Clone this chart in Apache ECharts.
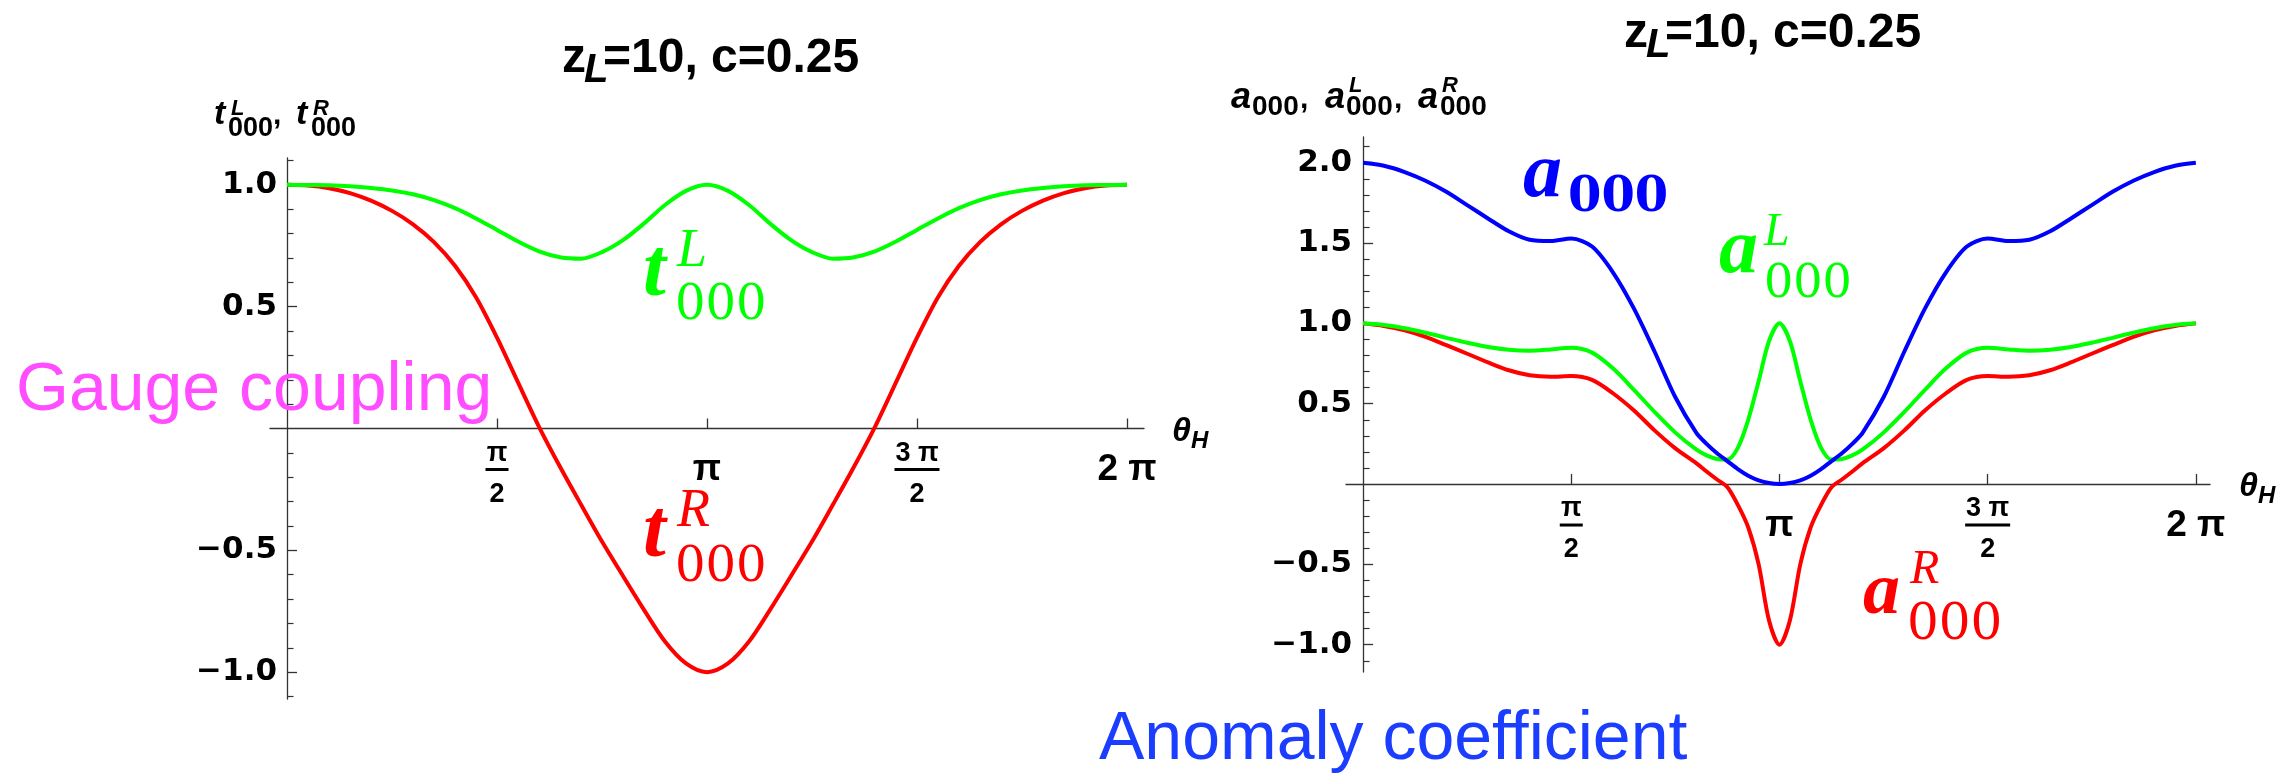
<!DOCTYPE html>
<html>
<head>
<meta charset="utf-8">
<script src="https://cdn.jsdelivr.net/npm/echarts@6/dist/echarts.min.js"></script>
<style>
html,body{margin:0;padding:0;background:#ffffff;}
#chart{width:2296px;height:780px;}
</style>
</head>
<body>
<div id="chart"></div>
<script>
// ---------------- data (x in units of π) ----------------
const thetaLeft = [0,0.05,0.1,0.15,0.2,0.25,0.3,0.35,0.4,0.45,0.5,0.55,0.6,0.65,0.7,0.75,0.8,0.85,0.9,0.95,1,
  1.05,1.1,1.15,1.2,1.25,1.3,1.35,1.4,1.45,1.5,1.55,1.6,1.65,1.7,1.75,1.8,1.85,1.9,1.95,2];
const tL000 = [1.000,0.999,0.998,0.994,0.987,0.977,0.961,0.937,0.904,0.862,0.815,0.767,0.727,0.703,0.697,0.724,0.773,0.841,0.917,0.975,1.000,
  0.975,0.917,0.841,0.773,0.724,0.697,0.703,0.727,0.767,0.815,0.862,0.904,0.937,0.961,0.977,0.987,0.994,0.998,0.999,1.000];
const tR000 = [1.000,0.997,0.986,0.966,0.935,0.893,0.838,0.765,0.668,0.539,0.373,0.189,0.007,-0.157,-0.312,-0.464,-0.605,-0.744,-0.874,-0.964,-1.000,
  -0.964,-0.874,-0.744,-0.605,-0.464,-0.312,-0.157,0.007,0.189,0.373,0.539,0.668,0.765,0.838,0.893,0.935,0.966,0.986,0.997,1.000];

const thetaRight = [0,0.05,0.1,0.15,0.2,0.25,0.3,0.35,0.4,0.45,0.5,0.55,0.6,0.65,0.7,0.75,0.8,0.825,0.85,0.875,0.9,0.925,0.95,0.975,1,
  1.025,1.05,1.075,1.1,1.125,1.15,1.175,1.2,1.25,1.3,1.35,1.4,1.45,1.5,1.55,1.6,1.65,1.7,1.75,1.8,1.85,1.9,1.95,2];
const a000 = [2.000,1.981,1.942,1.888,1.819,1.736,1.653,1.573,1.520,1.512,1.528,1.478,1.318,1.095,0.825,0.540,0.320,0.250,0.192,0.143,0.093,0.052,0.023,0.006,0.000,
  0.006,0.023,0.052,0.093,0.143,0.192,0.250,0.320,0.540,0.825,1.095,1.318,1.478,1.528,1.512,1.520,1.573,1.653,1.736,1.819,1.888,1.942,1.981,2.000];
const aL000 = [1.000,0.990,0.970,0.942,0.910,0.879,0.853,0.836,0.830,0.838,0.848,0.818,0.720,0.588,0.449,0.320,0.215,0.178,0.156,0.152,0.225,0.400,0.640,0.890,1.000,
  0.890,0.640,0.400,0.225,0.152,0.156,0.178,0.215,0.320,0.449,0.588,0.720,0.818,0.848,0.838,0.830,0.836,0.853,0.879,0.910,0.942,0.970,0.990,1.000];
const aR000 = [1.000,0.984,0.957,0.916,0.864,0.811,0.757,0.708,0.677,0.668,0.672,0.648,0.565,0.459,0.334,0.222,0.130,0.078,0.028,-0.020,-0.130,-0.270,-0.500,-0.850,-1.000,
  -0.850,-0.500,-0.270,-0.130,-0.020,0.028,0.078,0.130,0.222,0.334,0.459,0.565,0.648,0.672,0.668,0.677,0.708,0.757,0.811,0.864,0.916,0.957,0.984,1.000];

// ticks
const xTickValues = [0.5, 1, 1.5, 2];
const xTickLabels = ['{n|π}\n{b1|}\n{d|2}', '{s|π}', '{n|3 π}\n{b3|}\n{d|2}', '{s|2 π}'];
const yTicksLeft = [-1, -0.5, 0.5, 1];
const yMinorLeft = [-1.1,-0.9,-0.8,-0.7,-0.6,-0.4,-0.3,-0.2,-0.1,0.1,0.2,0.3,0.4,0.6,0.7,0.8,0.9,1.1];
const yTicksRight = [-1, -0.5, 0.5, 1, 1.5, 2];
const yMinorRight = [-1.1,-0.9,-0.8,-0.7,-0.6,-0.4,-0.3,-0.2,-0.1,0.1,0.2,0.3,0.4,0.6,0.7,0.8,0.9,1.1,1.2,1.3,1.4,1.6,1.7,1.8,1.9,2.1];

// ---------------- layout ----------------
const AX = '#333333';
const GREEN = '#00ff00', RED = '#ff0000', BLUE = '#0000ff';
const pairs = (xs, ys) => xs.map((x, i) => [x, ys[i]]);

const LG = {left: 270, top: 158, width: 874, height: 541};
const RG = {left: 1346, top: 137, width: 864, height: 535};
const LX = [-0.0405, 2.0405], RX = [-0.041, 2.034];
const LY = [-1.11, 1.11], RY = [-1.17, 2.16];
// offsets that bring the axes onto the zero lines (axes drawn at grid edges otherwise)
const xOff = (g, ext) => -g.height * (0 - ext[0]) / (ext[1] - ext[0]);
const yOff = (g, ext) => -g.width * (0 - ext[0]) / (ext[1] - ext[0]);

const xRich = {
  n: {fontFamily: 'Liberation Sans', fontWeight: 'bold', fontSize: 27, lineHeight: 20, color: '#000'},
  d: {fontFamily: 'Liberation Sans', fontWeight: 'bold', fontSize: 27, lineHeight: 38, color: '#000'},
  b1: {width: 23, height: 3, lineHeight: 12, backgroundColor: '#000'},
  b3: {width: 45, height: 3, lineHeight: 12, backgroundColor: '#000'},
  s: {fontFamily: 'Liberation Sans', fontWeight: 'bold', fontSize: 37, lineHeight: 53, color: '#000'}
};

function mainX(grid, ext, off) {
  return {
    type: 'value', gridIndex: grid, min: ext[0], max: ext[1], position: 'bottom', offset: off,
    axisLine: {show: true, onZero: false, lineStyle: {color: AX, width: 1.3}},
    axisTick: {show: true, inside: true, length: 10, customValues: xTickValues, lineStyle: {color: AX, width: 1.3}},
    axisLabel: {show: true, customValues: xTickValues, margin: 15,
      formatter: v => xTickLabels[xTickValues.indexOf(v)] || '', rich: xRich},
    splitLine: {show: false}
  };
}
function hiddenX(grid, ext) {
  return {
    type: 'value', gridIndex: grid, min: ext[0], max: ext[1],
    axisLine: {show: false, onZero: false}, axisTick: {show: false}, axisLabel: {show: false}, splitLine: {show: false}
  };
}
function mainY(grid, ext, off, ticks, margin) {
  return {
    type: 'value', gridIndex: grid, min: ext[0], max: ext[1], position: 'left', offset: off,
    axisLine: {show: true, onZero: false, lineStyle: {color: AX, width: 1.3}},
    axisTick: {show: true, inside: true, length: 10, customValues: ticks, lineStyle: {color: AX, width: 1.3}},
    axisLabel: {show: true, customValues: ticks, margin: margin, padding: [7, 0, 0, 0],
      fontFamily: 'DejaVu Sans', fontWeight: 'bold', fontSize: 31, color: '#000',
      formatter: v => (v < 0 ? '\u2212' : '') + Math.abs(v).toFixed(1)},
    splitLine: {show: false}
  };
}
function minorY(grid, ext, off, ticks) {
  return {
    type: 'value', gridIndex: grid, min: ext[0], max: ext[1], position: 'left', offset: off,
    axisLine: {show: false, onZero: false},
    axisTick: {show: true, inside: true, length: 6.5, customValues: ticks, lineStyle: {color: AX, width: 1.2}},
    axisLabel: {show: false}, splitLine: {show: false}
  };
}

// text helper: x = left, base = alphabetic baseline
function T(text, x, base, size, font, color) {
  return {
    type: 'text', silent: true, z: 100,
    style: {
      text: text, x: x, y: base - 0.345 * size,
      font: font.replace('#', size + 'px'),
      fill: color,
      align: 'left', textAlign: 'left',
      verticalAlign: 'middle', textVerticalAlign: 'middle'
    }
  };
}
const SB = 'bold # "Liberation Sans"';
const SBI = 'italic bold # "Liberation Sans"';
const RI = 'italic # "Liberation Serif"';
const RBI = 'italic bold # "Liberation Serif"';
const DS = '# "DejaVu Serif"';
const DSB = 'bold # "DejaVu Serif"';

const texts = [
  // titles
  T('z', 562, 75, 48, SB, '#000'), T('L', 584, 85, 40, SBI, '#000'), T('=10, c=0.25', 603, 75, 48, SB, '#000'),
  T('z', 1624, 50, 48, SB, '#000'), T('L', 1646, 60, 40, SBI, '#000'), T('=10, c=0.25', 1665, 50, 48, SB, '#000'),
  // left y-axis name
  T('t', 214, 126, 34, SBI, '#000'), T('L', 231, 117, 22, SBI, '#000'), T('000', 228, 138, 27, SB, '#000'),
  T(',', 273, 126, 30, SB, '#000'),
  T('t', 296, 126, 34, SBI, '#000'), T('R', 313, 117, 22, SBI, '#000'), T('000', 311, 138, 27, SB, '#000'),
  // right y-axis name
  T('a', 1231, 110, 36, SBI, '#000'), T('000', 1252, 117, 28, SB, '#000'), T(',', 1300, 110, 30, SB, '#000'),
  T('a', 1325, 110, 36, SBI, '#000'), T('L', 1349, 94, 22, SBI, '#000'), T('000', 1346, 117, 28, SB, '#000'),
  T(',', 1394, 110, 30, SB, '#000'),
  T('a', 1418, 110, 36, SBI, '#000'), T('R', 1442, 94, 22, SBI, '#000'), T('000', 1440, 117, 28, SB, '#000'),
  // theta_H axis names
  T('θ', 1172, 443, 34, SBI, '#000'), T('H', 1191, 450, 24, SBI, '#000'),
  T('θ', 2239, 498, 34, SBI, '#000'), T('H', 2258, 505, 24, SBI, '#000'),
  // curve labels (left)
  T('t', 643, 302, 82, RBI, GREEN), T('L', 677, 270, 54, RI, GREEN), T('000', 675, 323, 48, DS, GREEN),
  T('t', 643, 563, 82, RBI, RED), T('R', 677, 530, 54, RI, RED), T('000', 675, 585, 48, DS, RED),
  // curve labels (right)
  T('a', 1523, 203, 78, RBI, BLUE), T('000', 1568, 215, 48, DSB, BLUE),
  T('a', 1719, 279, 78, RBI, GREEN), T('L', 1764, 249, 46, RI, GREEN), T('000', 1764, 301, 46, DS, GREEN),
  T('a', 1863, 619, 74, RBI, RED), T('R', 1910, 587, 48, RI, RED), T('000', 1907, 643, 50, DS, RED),
  // annotations
  T('Gauge coupling', 16, 415, 68, '# "Liberation Sans"', '#ff4dff'),
  T('Anomaly coefficient', 1099, 764, 68, '# "Liberation Sans"', '#1a3dff')
];

const lineSeries = (name, xi, yi, data, color, z) => ({
  name: name, type: 'line', xAxisIndex: xi, yAxisIndex: yi, data: data,
  smooth: 0.3, showSymbol: false, symbol: 'none', z: z,
  lineStyle: {color: color, width: 4}, emphasis: {disabled: true}, animation: false
});

const gridOf = g => Object.assign({containLabel: false, outerBoundsMode: 'none'}, g);

const option = {
  backgroundColor: '#ffffff',
  animation: false,
  grid: [gridOf(LG), gridOf(LG), gridOf(RG), gridOf(RG)],
  xAxis: [
    mainX(0, LX, xOff(LG, LY)), hiddenX(1, LX),
    mainX(2, RX, xOff(RG, RY)), hiddenX(3, RX)
  ],
  yAxis: [
    mainY(0, LY, yOff(LG, LX), yTicksLeft, 10), minorY(1, LY, yOff(LG, LX), yMinorLeft),
    mainY(2, RY, yOff(RG, RX), yTicksRight, 11), minorY(3, RY, yOff(RG, RX), yMinorRight)
  ],
  series: [
    lineSeries('tR000', 0, 0, pairs(thetaLeft, tR000), RED, 2),
    lineSeries('tL000', 0, 0, pairs(thetaLeft, tL000), GREEN, 3),
    lineSeries('aR000', 2, 2, pairs(thetaRight, aR000), RED, 2),
    lineSeries('aL000', 2, 2, pairs(thetaRight, aL000), GREEN, 3),
    lineSeries('a000', 2, 2, pairs(thetaRight, a000), BLUE, 4)
  ],
  graphic: {elements: texts}
};

const chart = echarts.init(document.getElementById('chart'), null, {renderer: 'canvas', width: 2296, height: 780});
chart.setOption(option);
</script>
</body>
</html>
